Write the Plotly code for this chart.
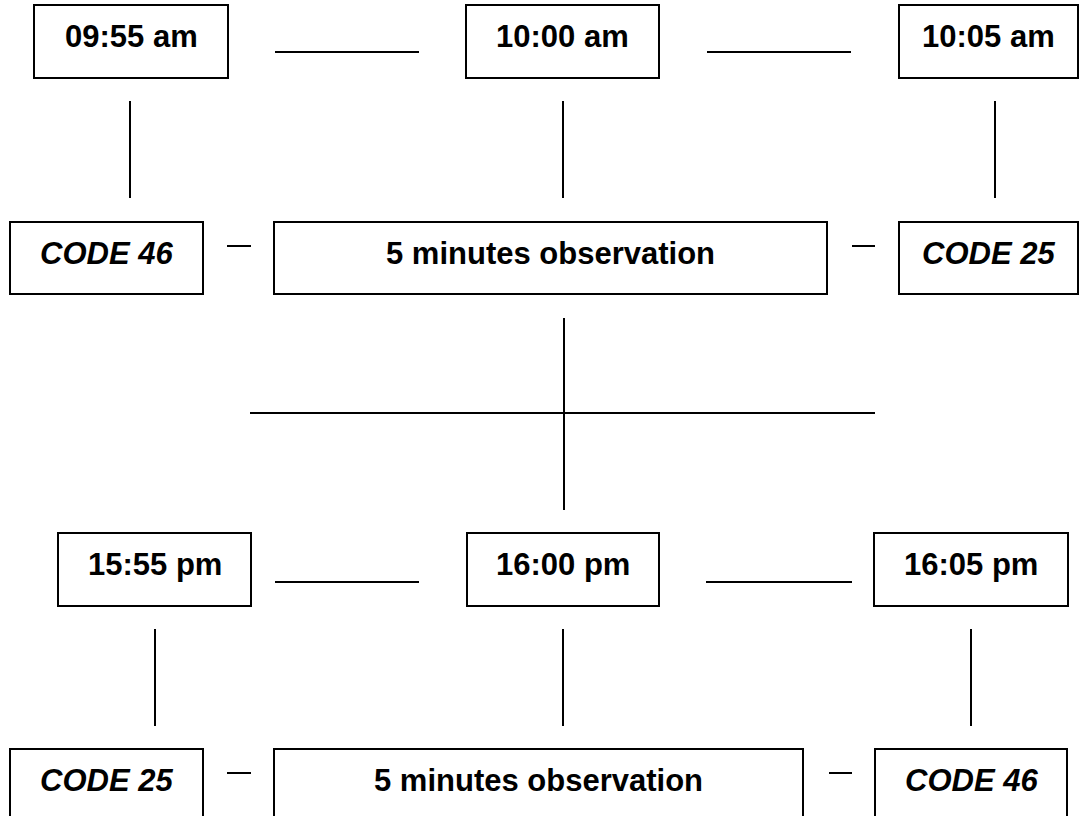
import plotly.graph_objects as go

# ---- content (text of the diagram) ----
time_labels_am = ["09:55 am", "10:00 am", "10:05 am"]
time_labels_pm = ["15:55 pm", "16:00 pm", "16:05 pm"]
code_labels_top = ["CODE 46", "5 minutes observation", "CODE 25"]
code_labels_bottom = ["CODE 25", "5 minutes observation", "CODE 46"]
italic_flags = [True, False, True]

# ---- layout geometry (pixel coordinates of the page) ----
W, H = 1080, 816
row_am_box = [(34, 228), (466, 659), (899, 1078)]
row_am_y = (5, 78)
row_c1_box = [(10, 203), (274, 827), (899, 1078)]
row_c1_y = (222, 294)
row_pm_box = [(58, 251), (467, 659), (874, 1068)]
row_pm_y = (533, 606)
row_c2_box = [(10, 203), (274, 803), (875, 1067)]
row_c2_y = (749, 822)

lines = [
    # row 1 connectors
    ((275, 52), (419, 52)), ((707, 52), (851, 52)),
    ((130, 101), (130, 198)), ((563, 101), (563, 198)), ((995, 101), (995, 198)),
    # row 2 dashes
    ((227, 246), (251, 246)), ((852, 246), (875, 246)),
    # central cross
    ((564, 318), (564, 510)), ((250, 413), (875, 413)),
    # row 3 connectors
    ((275, 582), (419, 582)), ((706, 582), (852, 582)),
    ((155, 629), (155, 726)), ((563, 629), (563, 726)), ((971, 629), (971, 726)),
    # row 4 dashes
    ((227, 773), (251, 773)), ((829, 773), (852, 773)),
]

FONT = "Liberation Sans, Arial, sans-serif"
FS = 31
TEXT_SHIFT = -5

fig = go.Figure()
shapes = []
annotations = []


def add_row(labels, boxes, yr, italics):
    for lab, (x0, x1), it in zip(labels, boxes, italics):
        shapes.append(dict(type="rect", xref="x", yref="y", x0=x0, x1=x1,
                           y0=yr[0], y1=yr[1],
                           line=dict(color="black", width=2),
                           fillcolor="white", layer="above"))
        txt = f"<b><i>{lab}</i></b>" if it else f"<b>{lab}</b>"
        annotations.append(dict(x=(x0 + x1) / 2, y=(yr[0] + yr[1]) / 2 + TEXT_SHIFT,
                                xref="x", yref="y", text=txt, showarrow=False,
                                xanchor="center", yanchor="middle",
                                font=dict(family=FONT, size=FS, color="black")))


add_row(time_labels_am, row_am_box, row_am_y, [False] * 3)
add_row(code_labels_top, row_c1_box, row_c1_y, italic_flags)
add_row(time_labels_pm, row_pm_box, row_pm_y, [False] * 3)
add_row(code_labels_bottom, row_c2_box, row_c2_y, italic_flags)

for (xa, ya), (xb, yb) in lines:
    shapes.append(dict(type="line", xref="x", yref="y", x0=xa, y0=ya, x1=xb, y1=yb,
                       line=dict(color="black", width=2)))

fig.add_trace(go.Scatter(x=[0, W], y=[0, H], mode="markers",
                         marker=dict(opacity=0), hoverinfo="skip", showlegend=False))

fig.update_layout(
    width=W, height=H,
    margin=dict(l=0, r=0, t=0, b=0),
    paper_bgcolor="white", plot_bgcolor="white",
    xaxis=dict(range=[0, W], visible=False, fixedrange=True),
    yaxis=dict(range=[H, 0], visible=False, fixedrange=True),
    shapes=shapes, annotations=annotations, showlegend=False,
)

fig.write_html(
    "out.html",
    config={"displayModeBar": False},
    post_script="document.body.style.margin='0';document.body.style.padding='0';"
                "document.documentElement.style.overflow='hidden';"
                "document.body.style.overflow='hidden';",
)
